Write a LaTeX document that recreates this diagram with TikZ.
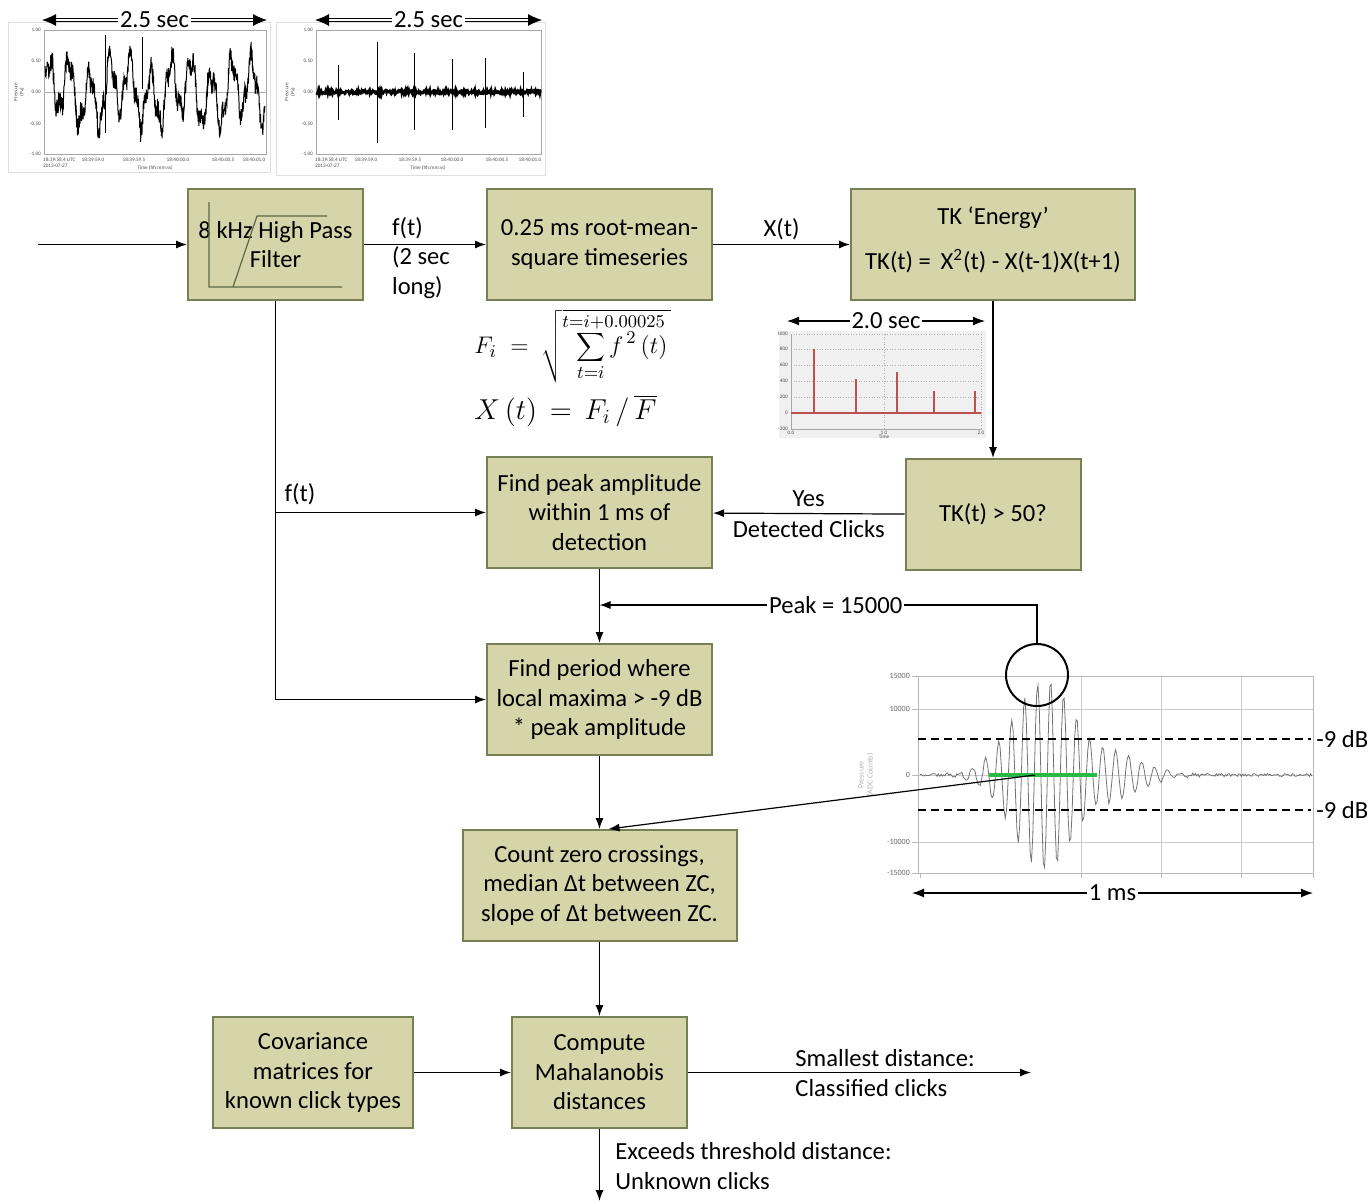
\documentclass[tikz,border=0pt]{standalone}
\usepackage{fontspec}
\setmainfont{Carlito}
\usetikzlibrary{arrows.meta, positioning, calc}
\definecolor{boxfill}{RGB}{214, 213, 170}
\definecolor{boxborder}{RGB}{118, 128, 84}
\definecolor{spikered}{RGB}{190, 80, 80}
\definecolor{clickgreen}{RGB}{40, 185, 70}

\begin{document}
\begin{tikzpicture}[
    x=0.5pt, y=-0.5pt,
    font=\fontsize{12.3}{14.75}\selectfont,
    blk/.style={rectangle, draw=boxborder, fill=boxfill, line width=1pt, align=center,
                minimum height=55.5pt, inner sep=2pt},
    arr/.style={-{Latex[length=5.5pt, width=4pt]}, line width=0.6pt},
    span/.style={{Latex[length=6pt, width=4.5pt]}-{Latex[length=6pt, width=4.5pt]}, line width=0.6pt},
    dspan/.style={{Latex[length=7pt, width=6pt]}-{Latex[length=7pt, width=6pt]},
                  double, double distance=1.2pt, line width=0.5pt},
    lbl/.style={inner sep=1pt},
    ticklbl/.style={font=\fontsize{2.6}{3}\selectfont, inner sep=0.4pt, text=black!70},
    wticklbl/.style={font=\fontsize{4}{4.5}\selectfont, inner sep=0.4pt, text=black!60}
]
\useasboundingbox (0,0) rectangle (1370,1201);
\pgfmathsetseed{7}

% =========== raw and filtered 2.5 s recordings ===========
\draw[gray!25] (8,22) rectangle (270,172);
\draw[gray!70, line width=0.3pt] (44,30) rectangle (266,154);
\draw[gray!60, line width=0.3pt] (44,92) -- (266,92);
\draw[line width=0.5pt] plot[domain=45:265, samples=700]
    (\x, {92 - 26*sin(17.73*(\x-44)) - 10*sin(50.7*(\x-44) + 30) - 9*sin(5.9*(\x-44)) + 20*(rnd-0.5)});
\draw[line width=0.4pt] (105,35) -- (105,133) (142,37) -- (142,89);
\foreach \v/\y in {1.00/30, 0.50/61, 0.00/92, -0.50/124, -1.00/154}
    \node[ticklbl, anchor=east] at (42,\y) {\v};
\node[ticklbl, rotate=90, align=center] at (19,92) {Pressure\\(Pa)};
\node[ticklbl, anchor=north west, align=left] at (42,157) {18:39:58.4 UTC\\2013-07-27};
\foreach \x/\t in {93/18:39:59.0, 134/18:39:59.5, 178/18:40:00.0, 223/18:40:00.5, 254/18:40:01.0}
    \node[ticklbl, anchor=north] at (\x,157) {\t};
\node[ticklbl] at (155,168) {Time (hh:mm:ss)};

\draw[gray!25] (276,22) rectangle (545,175);
\draw[gray!70, line width=0.3pt] (316,30) rectangle (541,154);
\draw[line width=1.2pt] plot[domain=316:541, samples=400] (\x, {92 + 4*(rnd-0.5)});
\foreach \x/\a/\b in {338/65/120, 377/42/143, 414/53/130, 452/59/130, 485/58/128, 523/72/117}
    \draw[line width=0.4pt] (\x,\a) -- (\x,\b);
\foreach \v/\y in {1.00/30, 0.50/61, 0.00/92, -0.50/124, -1.00/154}
    \node[ticklbl, anchor=east] at (314,\y) {\v};
\node[ticklbl, rotate=90, align=center] at (290,92) {Pressure\\(Pa)};
\node[ticklbl, anchor=north west, align=left] at (314,157) {18:39:58.4 UTC\\2013-07-27};
\foreach \x/\t in {366/18:39:59.0, 410/18:39:59.5, 452/18:40:00.0, 497/18:40:00.5, 530/18:40:01.0}
    \node[ticklbl, anchor=north] at (\x,157) {\t};
\node[ticklbl] at (428,168) {Time (hh:mm:ss)};

\coordinate (rawL) at (42,20);  \coordinate (rawR) at (267,20);
\coordinate (hpL)  at (315,20); \coordinate (hpR)  at (542,20);
\draw[dspan] (rawL) -- node[lbl, fill=white] {2.5 sec} (rawR);
\draw[dspan] (hpL) -- node[lbl, fill=white] {2.5 sec} (hpR);

% =========== processing chain ===========
\node[blk, minimum width=87.5pt] (hpf) at (275.5,244.5) {8 kHz High Pass\\Filter};
\draw[boxborder!80!black, line width=0.6pt] (209,202) -- (209,287) -- (342,287)
    (233,287) -- (257,216) -- (327,216);
\node[blk, minimum width=112.5pt, right=61pt of hpf] (rms) {0.25 ms root-mean-\\square timeseries};
\node[blk, minimum width=142pt, right=68.5pt of rms] (tk)
    {TK ‘Energy’\\[7.75pt] TK(t) = \,X\textsuperscript{2}(t) - X(t-1)X(t+1)\\[-8.5pt]\mbox{}};
\node[blk, minimum width=87.5pt, below=78.5pt of tk] (thr) {TK(t) > 50?};
\node[blk, minimum width=112.5pt, below=77.5pt of rms] (peak) {Find peak amplitude\\within 1 ms of\\detection};
\node[blk, minimum width=112.5pt, below=37pt of peak] (period) {Find period where\\local maxima > -9 dB\\* peak amplitude};
\node[blk, minimum width=137pt, below=36.5pt of period] (zc)
    {Count zero crossings,\\median Δt between ZC,\\slope of Δt between ZC.};
\node[blk, minimum width=87.5pt, below=37pt of zc] (mahal) {Compute\\Mahalanobis\\distances};
\node[blk, minimum width=100pt, left=48.5pt of mahal] (cov) {Covariance\\matrices for\\known click types};

% rms formula
\node[anchor=west, inner sep=0pt] (rmsf) at (474,346)
    {\fontsize{13}{16}\selectfont$F_{i}\;=\;\sqrt{\;\;\displaystyle\sum_{t=i}^{\hbox to 0pt{\hskip 8pt$\scriptstyle t=i+0.00025$\hss}} f^{\,2}\,(t)\,}$};
\node[anchor=west, inner sep=0pt] (xnorm) at (474,411)
    {\fontsize{14}{17}\selectfont$X\,(t)\,=\,F_{i}\,/\,\overline{F}$};

% TK energy trace
\fill[gray!12] (779,331) rectangle (986,438);
\foreach \y in {334,349,365,381,397,413,429}
    \draw[gray!60, densely dotted, line width=0.3pt] (791,\y) -- (981,\y);
\draw[gray!60, densely dotted, line width=0.3pt] (884,334) -- (884,429) (981,334) -- (981,429);
\draw[gray!70, line width=0.3pt] (791,334) -- (791,429) -- (981,429);
\draw[spikered, line width=0.6pt] (791,413) -- (981,413);
\foreach \x/\t in {814/349, 856/379, 897/372, 934/391, 975/391}
    \draw[spikered, line width=0.7pt] (\x,413) -- (\x,\t);
\foreach \v/\y in {1000/334, 800/349, 600/365, 400/381, 200/397, 0/413, -200/429}
    \node[ticklbl, anchor=east] at (789,\y) {\v};
\foreach \x/\t in {791/0.0, 884/1.0, 981/2.0}
    \node[ticklbl, anchor=north] at (\x,430) {\t};
\node[ticklbl] at (884,437) {Time};
\coordinate (tkL) at (787,321); \coordinate (tkR) at (985,321);
\draw[span] (tkL) -- node[lbl, fill=white] {2.0 sec} (tkR);

% single click waveform
\draw[gray!40, line width=0.3pt] (918,709) -- (1313,709) (918,775) -- (1313,775) (918,842) -- (1313,842)
    (1081,676) -- (1081,873) (1161,676) -- (1161,873) (1241,676) -- (1241,873);
\draw[gray!55, line width=0.4pt] (918,676) rectangle (1313,873);
\foreach \y/\v in {676/15000, 709/10000, 775/0, 842/-10000, 873/-15000} {
    \draw[gray!55, line width=0.4pt] (912,\y) -- (918,\y);
    \node[wticklbl, anchor=east] at (911,\y) {\v};
}
\foreach \x in {920,1081,1161,1241,1313}
    \draw[gray!55, line width=0.4pt] (\x,873) -- (\x,878);
\node[wticklbl, rotate=90, align=center, text=black!30] at (866,775) {Pressure\\(ADC Counts)};
\draw[black!55, line width=0.4pt] plot[domain=920:1312, samples=300]
    (\x, {775 - ((\x<1093) ? 95*exp(-((\x-1045)/45)^2) : 30*exp(-((\x-1093)/55)^2))*sin(27.69*(\x-995.35)) + 3*(rnd-0.5)});
\draw[clickgreen, line width=1.6pt] (989,775) -- (1097,775);
\draw[line width=1.4pt, dash pattern=on 4pt off 2.5pt] (918,739) -- (1311,739) (918,810) -- (1311,810);
\node[lbl, anchor=west] at (1314,739) {-9 dB};
\node[lbl, anchor=west] at (1314,810) {-9 dB};
\node[circle, draw, line width=1pt, minimum size=31pt, inner sep=0pt] (ring) at (1037,675) {};
\coordinate (msL) at (912,893); \coordinate (msR) at (1313,893);
\draw[span] (msL) -- node[lbl, fill=white] {1 ms} (msR);

% =========== connectors ===========
\coordinate (src) at (38,244.5);
\draw[arr] (src) -- (hpf);
\draw[arr] (hpf) -- (rms);
\node[lbl, align=left] (flen) at (421,258) {f(t)\\(2 sec\\long)};
\draw[arr] (rms) -- node[lbl, above=1pt] {X(t)} (tk);
\draw[arr] (tk) -- (thr);
\draw[arr] (thr) -- node[lbl, above=2pt] {Yes} node[lbl, below=2pt] {Detected Clicks} (peak);
\draw[arr] (hpf.south) |- (peak.west);
\node[lbl] at (300,494) {f(t)};
\draw[arr] (hpf.south) |- (period.west);
\draw[arr] (peak) -- (period);
\coordinate (pkjoin) at (599.5,605);
\draw[arr] (ring.north) |- node[lbl, fill=white, pos=0.73] {Peak = 15000} (pkjoin);
\draw[arr] (period) -- (zc);
\coordinate (zcr) at (1035,775);
\draw[arr] (zcr) -- ([xshift=4.5pt]zc.north);
\draw[arr] (zc) -- (mahal);
\draw[arr] (cov) -- (mahal);
\coordinate (clsout) at ([xshift=171.5pt]mahal.east);
\draw[arr] (mahal) -- (clsout);
\node[lbl, anchor=west] at (793,1058) {Smallest distance:};
\node[lbl, anchor=west] at (793,1088) {Classified clicks};
\coordinate (unkout) at (599.5,1201);
\draw[arr] (mahal) -- (unkout);
\node[lbl, anchor=west] at (613,1151) {Exceeds threshold distance:};
\node[lbl, anchor=west] at (613,1181) {Unknown clicks};

\end{tikzpicture}
\end{document}
